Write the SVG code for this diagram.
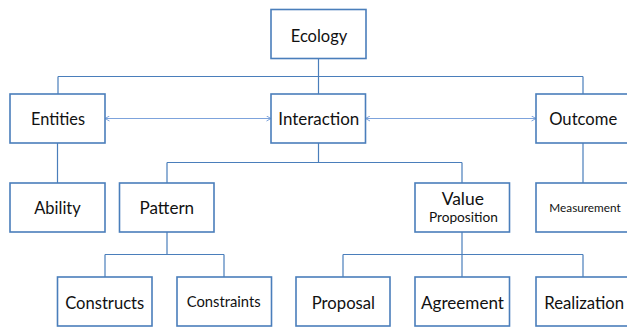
<svg xmlns="http://www.w3.org/2000/svg" width="627" height="328" viewBox="0 0 627 328">
  <style>
    .box rect { fill: #ffffff; stroke: #4a7ebb; stroke-width: 1.6; }
    .box text { font-family: Lato, "Liberation Sans", sans-serif; font-size: 16.5px; fill: #111111; text-anchor: middle; }
    .link { fill: none; stroke: #4a7ebb; stroke-width: 1.2; }
    .assoc { fill: none; stroke: #7da3dc; stroke-width: 1; marker-start: url(#chev); marker-end: url(#chev); }
  </style>
  <defs>
    <marker id="chev" viewBox="0 0 6 6" refX="5.5" refY="3" markerWidth="6" markerHeight="6" markerUnits="userSpaceOnUse" orient="auto-start-reverse">
      <path d="M1,0.5 L5.5,3 L1,5.5" fill="none" stroke="#7da3dc" stroke-width="1"/>
    </marker>
  </defs>

  <!-- tree connectors -->
  <g id="connectors">
    <path class="link" d="M318.5,58.5 V76.5 M58,76.5 H583 M58,76.5 V94 M318.5,76.5 V94 M583,76.5 V94"/>
    <path class="link" d="M57.5,142.5 V183 M583,142.5 V183"/>
    <path class="link" d="M318.5,142.5 V162.5 M167,162.5 H462 M167,162.5 V183 M462,162.5 V183"/>
    <path class="link" d="M167,232 V254.5 M105,254.5 H224 M105,254.5 V277 M224,254.5 V277"/>
    <path class="link" d="M462,232 V254.5 M343,254.5 H583 M343,254.5 V277 M462,254.5 V277 M583,254.5 V277"/>
    <path class="assoc" d="M105,118.5 H271"/>
    <path class="assoc" d="M365.5,118.5 H536"/>
  </g>

  <g id="ecology" class="box"><rect x="271" y="9.5" width="95" height="49"/><text x="319" y="41.5" textLength="56.5" lengthAdjust="spacingAndGlyphs">Ecology</text></g>

  <g id="entities" class="box"><rect x="10" y="94" width="95" height="49"/><text x="58" y="124.5" textLength="54" lengthAdjust="spacingAndGlyphs">Entities</text></g>
  <g id="interaction" class="box"><rect x="271" y="94" width="94.5" height="49"/><text x="318.8" y="124.5" textLength="81" lengthAdjust="spacingAndGlyphs">Interaction</text></g>
  <g id="outcome" class="box"><rect x="536" y="94" width="95" height="49"/><text x="583.2" y="124.5" textLength="68" lengthAdjust="spacingAndGlyphs">Outcome</text></g>

  <g id="ability" class="box"><rect x="10" y="183" width="95" height="49"/><text x="57.5" y="213.5" textLength="46.5" lengthAdjust="spacingAndGlyphs">Ability</text></g>
  <g id="pattern" class="box"><rect x="119.5" y="183" width="94.5" height="49"/><text x="166.8" y="213.5" textLength="54.7" lengthAdjust="spacingAndGlyphs">Pattern</text></g>
  <g id="value-proposition" class="box"><rect x="415" y="183" width="94.5" height="49"/><text x="462.8" y="204.5" textLength="42.3" lengthAdjust="spacingAndGlyphs">Value</text><text x="463.4" y="222" style="font-size:13.5px" textLength="69" lengthAdjust="spacingAndGlyphs">Proposition</text></g>
  <g id="measurement" class="box"><rect x="536" y="183" width="95" height="49"/><text x="585" y="211.5" style="font-size:11.3px" textLength="71.3" lengthAdjust="spacingAndGlyphs">Measurement</text></g>

  <g id="constructs" class="box"><rect x="57.5" y="277" width="94.5" height="49"/><text x="104.7" y="308.5" textLength="79" lengthAdjust="spacingAndGlyphs">Constructs</text></g>
  <g id="constraints" class="box"><rect x="177" y="277" width="94.5" height="49"/><text x="223.7" y="307" style="font-size:14.7px" textLength="74" lengthAdjust="spacingAndGlyphs">Constraints</text></g>
  <g id="proposal" class="box"><rect x="296" y="277" width="94" height="49"/><text x="343.4" y="308.5" textLength="63.3" lengthAdjust="spacingAndGlyphs">Proposal</text></g>
  <g id="agreement" class="box"><rect x="415" y="277" width="94.5" height="49"/><text x="462.5" y="308.5" textLength="83" lengthAdjust="spacingAndGlyphs">Agreement</text></g>
  <g id="realization" class="box"><rect x="536" y="277" width="95" height="49"/><text x="584.2" y="308.5" textLength="80" lengthAdjust="spacingAndGlyphs">Realization</text></g>
</svg>
